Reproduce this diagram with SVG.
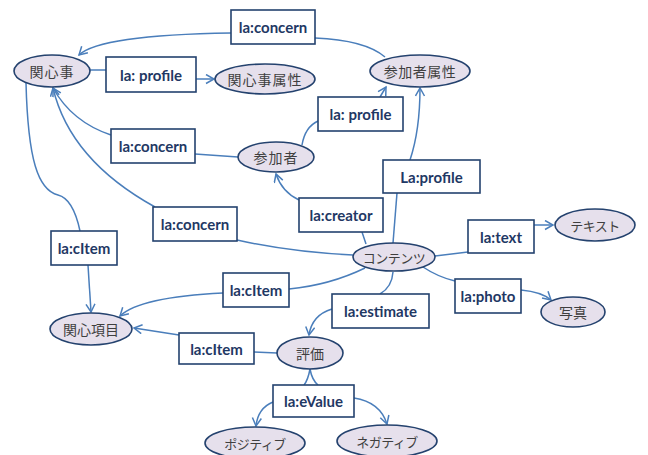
<svg xmlns="http://www.w3.org/2000/svg" width="648" height="455" viewBox="0 0 648 455">
<defs>
<marker id="arr" markerUnits="userSpaceOnUse" markerWidth="12" markerHeight="12" refX="9" refY="5" orient="auto">
<path d="M1,0.5 L9,5 L1,9.5" fill="none" stroke="#4a7ebb" stroke-width="1.5"/>
</marker>
<style>
.n ellipse{fill:#e6e0ec;stroke:#24426e;stroke-width:1.6}
.n text{font-family:"Noto Sans CJK JP","Noto Sans",sans-serif;font-size:14px;fill:#3f3f3f;text-anchor:middle;dominant-baseline:central;letter-spacing:1px}
.n text.k{font-size:13px;letter-spacing:-0.5px}
.b rect{fill:#fff;stroke:#24426e;stroke-width:1.6}
.b text{font-family:Lato,"Liberation Sans",sans-serif;font-weight:bold;font-size:15px;fill:#1f3864;text-anchor:middle;dominant-baseline:central}
#edges path{fill:none;stroke:#4a7ebb;stroke-width:1.5}
</style>
</defs>
<rect width="648" height="455" fill="#fff"/>
<g id="edges">
<path d="M385,57 Q365,40 315,38"/>
<path d="M231,33 Q100,35 79,55" marker-end="url(#arr)"/>
<path d="M90,70 L106,70"/>
<path d="M196,79 L214,79" marker-end="url(#arr)"/>
<path d="M238,157 L195,154"/>
<path d="M111,135 Q72,122 53,88" marker-end="url(#arr)"/>
<path d="M302,145 Q305,127 318,121"/>
<path d="M380,97 L386,87" marker-end="url(#arr)"/>
<path d="M393,243 L397,193"/>
<path d="M410,160 Q420,130 420,88" marker-end="url(#arr)"/>
<path d="M366,244 L362,232"/>
<path d="M299,200 Q282,192 276,174" marker-end="url(#arr)"/>
<path d="M353,255 Q290,252 237,240"/>
<path d="M155,207 Q70,160 53,88" marker-end="url(#arr)"/>
<path d="M26,83 C28,160 38,190 58,195 C70,198 76,212 80,231"/>
<path d="M88,265 L91,312" marker-end="url(#arr)"/>
<path d="M365,268 Q330,285 289,289"/>
<path d="M223,293 Q140,297 120,316" marker-end="url(#arr)"/>
<path d="M277,353 L254,352"/>
<path d="M179,335 L134,328" marker-end="url(#arr)"/>
<path d="M393,272 Q392,287 380,294"/>
<path d="M332,309 Q312,315 309,335" marker-end="url(#arr)"/>
<path d="M435,256 L468,252"/>
<path d="M534,225 L553,225" marker-end="url(#arr)"/>
<path d="M423,267 Q438,277 455,281"/>
<path d="M521,290 Q542,292 551,300" marker-end="url(#arr)"/>
<path d="M310,369 Q308,380 304,385"/>
<path d="M310,369 Q312,380 318,385"/>
<path d="M273,402 Q258,408 256,426" marker-end="url(#arr)"/>
<path d="M354,398 Q380,402 387,424" marker-end="url(#arr)"/>
</g>
<g id="n-kanshinji" class="n"><ellipse cx="52" cy="71" rx="38" ry="16"/><text x="52" y="71">関心事</text></g>
<g id="n-kanshinjizokusei" class="n"><ellipse cx="265" cy="79" rx="50" ry="15"/><text x="265" y="79">関心事属性</text></g>
<g id="n-sankashazokusei" class="n"><ellipse cx="420" cy="71" rx="50" ry="16"/><text x="420" y="71" style="letter-spacing:0.5px">参加者属性</text></g>
<g id="n-sankasha" class="n"><ellipse cx="276" cy="157" rx="38" ry="15"/><text x="276" y="157">参加者</text></g>
<g id="n-contents" class="n"><ellipse cx="394" cy="257" rx="41" ry="14"/><text class="k" x="394" y="257">コンテンツ</text></g>
<g id="n-text" class="n"><ellipse cx="595" cy="225" rx="40" ry="16"/><text class="k" x="595" y="225">テキスト</text></g>
<g id="n-photo" class="n"><ellipse cx="573" cy="312" rx="32" ry="15"/><text x="573" y="312" style="letter-spacing:0">写真</text></g>
<g id="n-kanshinkoumoku" class="n"><ellipse cx="91" cy="329" rx="41" ry="16"/><text x="91" y="329" style="letter-spacing:0">関心項目</text></g>
<g id="n-hyouka" class="n"><ellipse cx="310" cy="353" rx="33" ry="16"/><text x="310" y="353" style="letter-spacing:0">評価</text></g>
<g id="n-positive" class="n"><ellipse cx="255" cy="443" rx="50" ry="16"/><text class="k" x="255" y="443">ポジティブ</text></g>
<g id="n-negative" class="n"><ellipse cx="387" cy="441" rx="50" ry="16"/><text class="k" x="387" y="441">ネガティブ</text></g>
<g id="b-concern1" class="b"><rect x="231" y="10" width="84" height="34"/><text x="273" y="27">la:concern</text></g>
<g id="b-profile1" class="b"><rect x="106" y="57" width="90" height="35"/><text x="151" y="74.5">la: profile</text></g>
<g id="b-concern2" class="b"><rect x="111" y="129" width="84" height="34"/><text x="153" y="146">la:concern</text></g>
<g id="b-profile2" class="b"><rect x="318" y="97" width="85" height="34"/><text x="360.5" y="114">la: profile</text></g>
<g id="b-profile3" class="b"><rect x="383" y="160" width="97" height="33"/><text x="431.5" y="176.5">La:profile</text></g>
<g id="b-creator" class="b"><rect x="299" y="198" width="84" height="34"/><text x="341" y="215">la:creator</text></g>
<g id="b-concern3" class="b"><rect x="153" y="207" width="84" height="34"/><text x="195" y="224">la:concern</text></g>
<g id="b-citem1" class="b"><rect x="51" y="231" width="66" height="34"/><text x="84" y="248">la:cItem</text></g>
<g id="b-citem2" class="b"><rect x="223" y="273" width="66" height="34"/><text x="256" y="290">la:cItem</text></g>
<g id="b-citem3" class="b"><rect x="179" y="333" width="75" height="31"/><text x="216.5" y="348.5">la:cItem</text></g>
<g id="b-estimate" class="b"><rect x="332" y="294" width="97" height="34"/><text x="380.5" y="311">la:estimate</text></g>
<g id="b-text" class="b"><rect x="468" y="220" width="66" height="33"/><text x="501" y="236.5">la:text</text></g>
<g id="b-photo" class="b"><rect x="455" y="279" width="66" height="34"/><text x="488" y="296">la:photo</text></g>
<g id="b-evalue" class="b"><rect x="273" y="385" width="81" height="32"/><text x="313.5" y="401">la:eValue</text></g>
</svg>
